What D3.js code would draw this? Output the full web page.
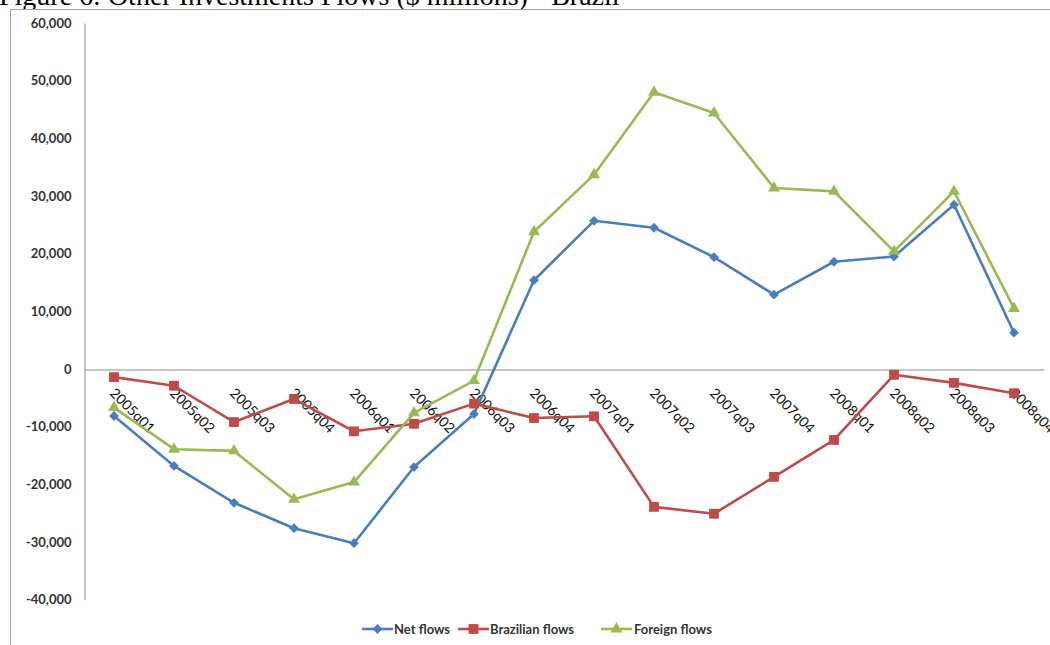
<!DOCTYPE html>
<html>
<head>
<meta charset="utf-8">
<script src="https://cdn.jsdelivr.net/npm/d3@7"></script>
<style>
  html, body { margin: 0; padding: 0; background: #fff; }
  svg { display: block; }
</style>
</head>
<body>
<svg id="chart" width="1050" height="645"></svg>
<script>
// Quarterly flows, $ millions
const quarters = ["2005q01","2005q02","2005q03","2005q04","2006q01","2006q02","2006q03","2006q04",
                  "2007q01","2007q02","2007q03","2007q04","2008q01","2008q02","2008q03","2008q04"];
const netFlows = [-8150,-16800,-23200,-27600,-30200,-17000,-7800,15400,25700,24500,19400,12900,18600,19500,28500,6300];
const brazilianFlows = [-1400,-2900,-9200,-5200,-10800,-9500,-6000,-8500,-8200,-23900,-25100,-18700,-12300,-1000,-2400,-4200];
const foreignFlows = [-6700,-13900,-14200,-22600,-19600,-7600,-2000,23800,33700,48000,44400,31400,30800,20400,30800,10500];
const yTicks = [-40000,-30000,-20000,-10000,0,10000,20000,30000,40000,50000,60000];
const titleText = "Figure 6: Other Investments Flows ($ millions) - Brazil";

const series = [
  { name: "Net flows",        values: netFlows,       color: "#4a7ebb", marker: "diamond" },
  { name: "Brazilian flows",  values: brazilianFlows, color: "#be4b48", marker: "square" },
  { name: "Foreign flows",    values: foreignFlows,   color: "#98b954", marker: "triangle" }
];

const svg = d3.select("#chart");

// Title line above the chart frame
const title = svg.append("text")
  .attr("x", -1).attr("y", 5)
  .attr("font-family", "'Liberation Serif', 'Times New Roman', serif")
  .attr("font-size", 24)
  .attr("fill", "#000")
  .text(titleText);
const tw = title.node().getComputedTextLength();
title.attr("font-size", 24 * 621 / tw);

// Chart frame
svg.append("rect")
  .attr("x", 10.5).attr("y", 9.5)
  .attr("width", 1100).attr("height", 700)
  .attr("fill", "#fff")
  .attr("stroke", "#a6a6a6").attr("stroke-width", 1);

const x = d3.scaleBand().domain(quarters).range([84, 1044]).padding(0);
const cx = q => x(q) + x.bandwidth() / 2;
const y = d3.scaleLinear().domain([-40000, 60000]).range([599.7, 23]);

const fmt = d3.formatLocale({ decimal: ".", thousands: ",", grouping: [3], currency: ["$", ""], minus: "-" }).format(",");

// Y axis
const yAxis = svg.append("g")
  .attr("transform", "translate(84.5,0)")
  .call(d3.axisLeft(y).tickValues(yTicks).tickFormat(fmt).tickSize(0).tickSizeOuter(0).tickPadding(13));
yAxis.select(".domain").attr("stroke", "#8c8c8c").attr("stroke-width", 1);
yAxis.selectAll("text")
  .attr("font-family", "Lato, 'Open Sans', sans-serif")
  .attr("font-weight", 700)
  .attr("font-size", 13)
  .attr("fill", "#333");

// Horizontal axis at zero
const xAxis = svg.append("g")
  .attr("transform", `translate(0,${Math.round(y(0)) + 0.5})`)
  .call(d3.axisBottom(x).tickSize(0).tickSizeOuter(0).tickFormat(""));
xAxis.select(".domain").attr("stroke", "#8c8c8c").attr("stroke-width", 1);

// Category labels, rotated
svg.append("g").selectAll("text")
  .data(quarters)
  .join("text")
  .attr("transform", d => `translate(${cx(d) - 5},${394}) rotate(45)`)
  .attr("font-family", "Lato, 'Open Sans', sans-serif")
  .attr("font-size", 14)
  .attr("fill", "#111")
  .text(d => d);

const markerPath = {
  diamond:  () => d3.symbol(d3.symbolSquare, 48)(),
  square:   () => d3.symbol(d3.symbolSquare, 96)(),
  triangle: () => d3.symbol(d3.symbolTriangle, 62)()
};
const markerRotate = { diamond: 45, square: 0, triangle: 0 };

const line = d3.line().x((d, i) => cx(quarters[i])).y(d => y(d));

series.forEach(s => {
  const g = svg.append("g");
  g.append("path")
    .datum(s.values)
    .attr("d", line)
    .attr("fill", "none")
    .attr("stroke", s.color)
    .attr("stroke-width", 2.6)
    .attr("stroke-linejoin", "round");
  g.selectAll("path.m")
    .data(s.values)
    .join("path")
    .attr("class", "m")
    .attr("d", markerPath[s.marker]())
    .attr("transform", (d, i) => `translate(${cx(quarters[i])},${y(d)}) rotate(${markerRotate[s.marker]})`)
    .attr("fill", s.color);
});

// Legend
const legendItems = [
  { s: series[0], x0: 362, tx: 394 },
  { s: series[1], x0: 458, tx: 490 },
  { s: series[2], x0: 601, tx: 634 }
];
const ly = 629;
const lg = svg.append("g");
legendItems.forEach(it => {
  lg.append("line")
    .attr("x1", it.x0).attr("x2", it.x0 + 31)
    .attr("y1", ly).attr("y2", ly)
    .attr("stroke", it.s.color).attr("stroke-width", 2.6);
  lg.append("path")
    .attr("d", markerPath[it.s.marker]())
    .attr("transform", `translate(${it.x0 + 15.5},${ly}) rotate(${markerRotate[it.s.marker]})`)
    .attr("fill", it.s.color);
  lg.append("text")
    .attr("x", it.tx).attr("y", ly + 4.5)
    .attr("font-family", "Lato, 'Open Sans', sans-serif")
    .attr("font-weight", 700)
    .attr("font-size", 13)
    .attr("fill", "#333")
    .text(it.s.name);
});
</script>
</body>
</html>
